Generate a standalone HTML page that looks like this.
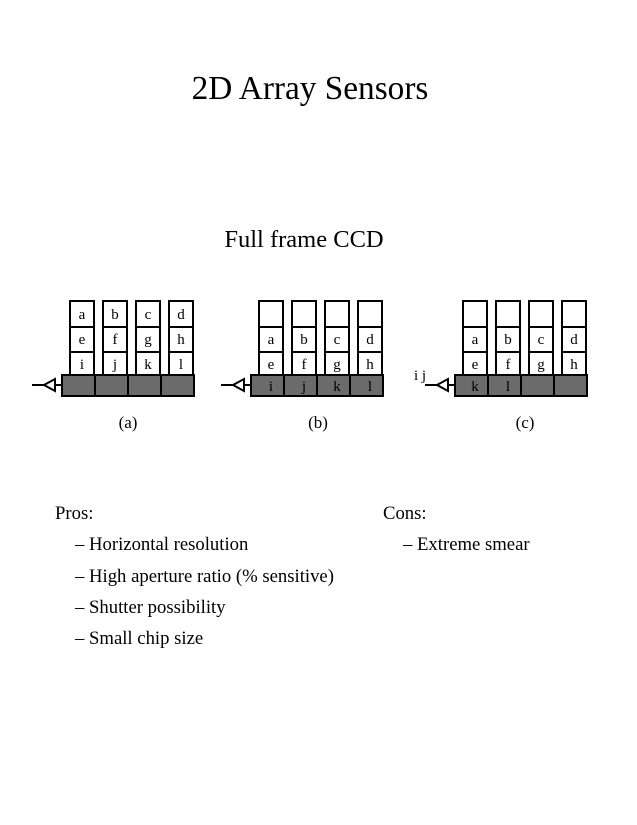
<!DOCTYPE html>
<html><head><style>
html,body{margin:0;padding:0;background:#fff;}
svg{display:block;}
text{font-family:"Liberation Serif",serif;fill:#000;}
</style></head><body>
<svg width="637" height="825" viewBox="0 0 637 825">
<text x="310" y="99" font-size="33.3" text-anchor="middle">2D Array Sensors</text>
<text x="304" y="247" font-size="24.5" text-anchor="middle">Full frame CCD</text>

<defs>
<g id="cols" stroke="#000" stroke-width="2" fill="#fff">
<rect x="70" y="301" width="24" height="75"/>
<rect x="103" y="301" width="24" height="75"/>
<rect x="136" y="301" width="24" height="75"/>
<rect x="169" y="301" width="24" height="75"/>
<line x1="70" y1="327" x2="94" y2="327"/><line x1="70" y1="352" x2="94" y2="352"/>
<line x1="103" y1="327" x2="127" y2="327"/><line x1="103" y1="352" x2="127" y2="352"/>
<line x1="136" y1="327" x2="160" y2="327"/><line x1="136" y1="352" x2="160" y2="352"/>
<line x1="169" y1="327" x2="193" y2="327"/><line x1="169" y1="352" x2="193" y2="352"/>
<rect x="62" y="375" width="132" height="21" fill="#6b6b6b"/>
<line x1="95" y1="375" x2="95" y2="396"/><line x1="128" y1="375" x2="128" y2="396"/><line x1="161" y1="375" x2="161" y2="396"/>
<line x1="32" y1="385" x2="44" y2="385"/>
<polygon points="44,385 55,379 55,391" fill="#fff"/>
<line x1="55" y1="385" x2="62" y2="385"/>
</g>
</defs>

<g font-size="15" text-anchor="middle">
<use href="#cols"/>
<text x="82" y="319">a</text><text x="115" y="319">b</text><text x="148" y="319">c</text><text x="181" y="319">d</text>
<text x="82" y="344">e</text><text x="115" y="344">f</text><text x="148" y="344">g</text><text x="181" y="344">h</text>
<text x="82" y="369">i</text><text x="115" y="369">j</text><text x="148" y="369">k</text><text x="181" y="369">l</text>
<text x="128" y="428" font-size="17">(a)</text>

<g transform="translate(189,0)">
<use href="#cols"/>
<text x="82" y="344">a</text><text x="115" y="344">b</text><text x="148" y="344">c</text><text x="181" y="344">d</text>
<text x="82" y="369">e</text><text x="115" y="369">f</text><text x="148" y="369">g</text><text x="181" y="369">h</text>
<text x="82" y="391">i</text><text x="115" y="391">j</text><text x="148" y="391">k</text><text x="181" y="391">l</text>
<text x="129" y="428" font-size="17">(b)</text>
</g>

<g transform="translate(393,0)">
<use href="#cols"/>
<text x="82" y="344">a</text><text x="115" y="344">b</text><text x="148" y="344">c</text><text x="181" y="344">d</text>
<text x="82" y="369">e</text><text x="115" y="369">f</text><text x="148" y="369">g</text><text x="181" y="369">h</text>
<text x="82" y="391">k</text><text x="115" y="391">l</text>
<text x="132" y="428" font-size="17">(c)</text>
</g>
<text x="420" y="380" font-size="15">i j</text>
</g>

<g font-size="18.7">
<text x="55" y="519">Pros:</text>
<text x="75" y="550">– Horizontal resolution</text>
<text x="75" y="582">– High aperture ratio (% sensitive)</text>
<text x="75" y="613">– Shutter possibility</text>
<text x="75" y="644">– Small chip size</text>
<text x="383" y="519">Cons:</text>
<text x="403" y="550">– Extreme smear</text>
</g>
</svg>
</body></html>
